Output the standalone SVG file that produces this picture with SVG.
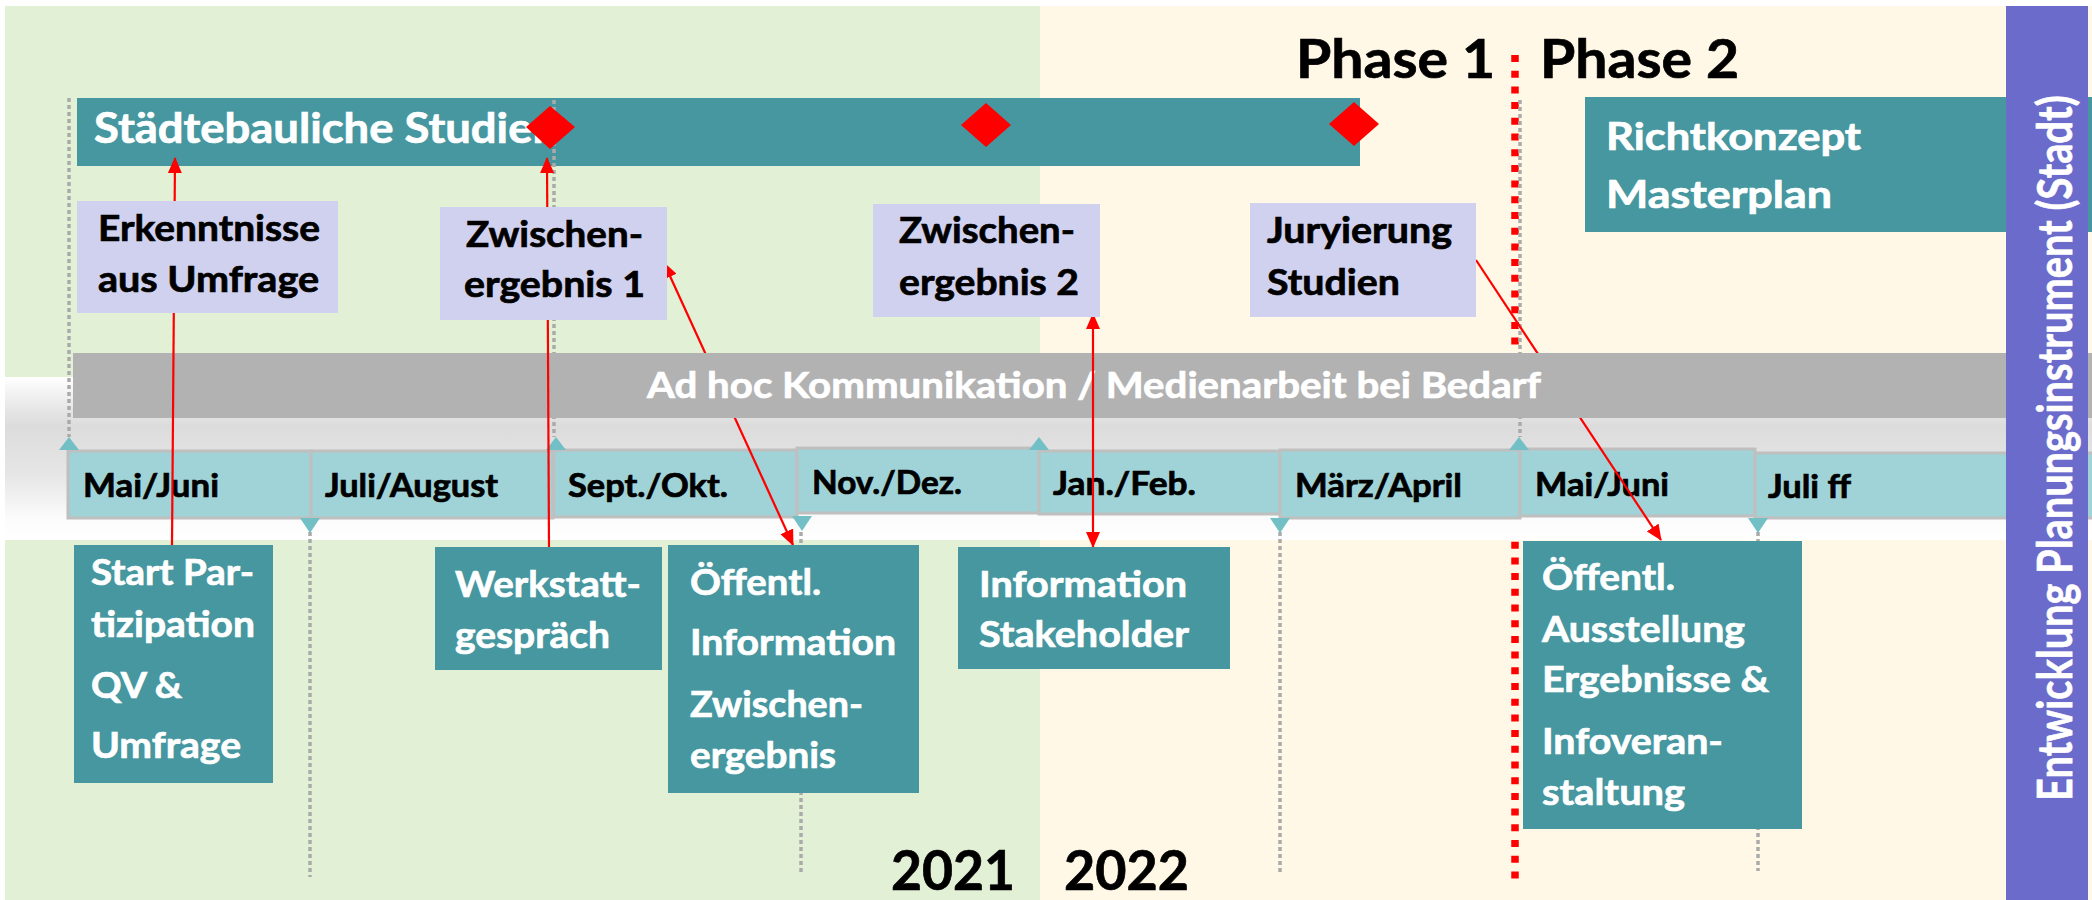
<svg xmlns="http://www.w3.org/2000/svg" width="2092" height="900" viewBox="0 0 2092 900">
<defs>
<linearGradient id="bandGrad" x1="0" y1="0" x2="0" y2="1">
<stop offset="0" stop-color="#ffffff"/>
<stop offset="0.2" stop-color="#e6e6e6"/>
<stop offset="0.3" stop-color="#dcdcdc"/>
<stop offset="0.6" stop-color="#e6e6e6"/>
<stop offset="0.86" stop-color="#fbfbfb"/>
<stop offset="1" stop-color="#ffffff"/>
</linearGradient>
<marker id="arr" viewBox="0 0 16 14" refX="15" refY="7" markerWidth="16" markerHeight="14" markerUnits="userSpaceOnUse" orient="auto-start-reverse">
<path d="M0,0 L16,7 L0,14 Z" fill="#ff0000"/>
</marker>
<style>
text{font-family:Lato,"Open Sans","Liberation Sans",sans-serif;font-weight:bold}
.teal{fill:#46979f}
.lav{fill:#d0d1ef}
.wt{fill:#ffffff;stroke:#ffffff;stroke-width:0.7}
.bk{fill:#000000;stroke:#000000;stroke-width:0.7}
.month{fill:#9fd3d7;stroke:#bfbfbf;stroke-width:3}
.tri{fill:#73bfc6}
.gdot{stroke:#aaaaaa;stroke-width:3.5;stroke-dasharray:4 3;fill:none}
.red{stroke:#ff0000;stroke-width:2.2;fill:none}
.dia{fill:#ff0000}
.f36{font-size:36px}
.f37{font-size:37px}
.f32{font-size:32px}
</style>
</defs>

<g id="background">
<rect x="0" y="0" width="2092" height="900" fill="#ffffff"/>
<rect x="5" y="6" width="1036" height="894" fill="#e2f0d6"/>
<rect x="1040" y="6" width="1052" height="894" fill="#fff8e6"/>
</g>

<g id="phase-divider">
<line x1="1515" y1="55" x2="1515" y2="887" stroke="#ff0000" stroke-width="7.5" stroke-dasharray="7 8.7"/>
</g>

<g id="band">
<rect x="5" y="377" width="2087" height="163" fill="url(#bandGrad)"/>
</g>

<g id="node-staedtebau">
<rect x="77" y="98" width="1283" height="68" class="teal"/>
<text x="94" y="143" class="wt" style="font-size:42px" textLength="464" lengthAdjust="spacingAndGlyphs">Städtebauliche Studien</text>
</g>

<g id="guides">
<line x1="69" y1="98" x2="69" y2="437" class="gdot"/>
<line x1="554" y1="100" x2="554" y2="437" class="gdot"/>
<line x1="1520" y1="100" x2="1520" y2="437" class="gdot"/>
<line x1="310" y1="532" x2="310" y2="877" class="gdot"/>
<line x1="801" y1="532" x2="801" y2="873" class="gdot"/>
<line x1="1280" y1="532" x2="1280" y2="875" class="gdot"/>
<line x1="1758" y1="532" x2="1758" y2="871" class="gdot"/>
</g>

<g id="milestones">
<polygon points="550,106 575,127 550,149 526,127" class="dia"/>
<polygon points="986,103 1011,125 986,147 961,125" class="dia"/>
<polygon points="1354,102 1379,124 1354,146 1329,124" class="dia"/>
</g>

<g id="months">
<rect x="68" y="451" width="243" height="67" class="month"/>
<rect x="311" y="451" width="242" height="67" class="month"/>
<rect x="554" y="450" width="243" height="67" class="month"/>
<rect x="797" y="448" width="242" height="65" class="month"/>
<rect x="1039" y="451" width="241" height="63" class="month"/>
<rect x="1280" y="450" width="240" height="68" class="month"/>
<rect x="1520" y="449" width="235" height="67" class="month"/>
<rect x="1755" y="453" width="345" height="65" class="month"/>
<text x="83" y="497" class="bk f32" textLength="136" lengthAdjust="spacingAndGlyphs">Mai/Juni</text>
<text x="325" y="497" class="bk f32" textLength="173" lengthAdjust="spacingAndGlyphs">Juli/August</text>
<text x="568" y="497" class="bk f32" textLength="160" lengthAdjust="spacingAndGlyphs">Sept./Okt.</text>
<text x="812" y="494" class="bk f32" textLength="150" lengthAdjust="spacingAndGlyphs">Nov./Dez.</text>
<text x="1053" y="495" class="bk f32" textLength="143" lengthAdjust="spacingAndGlyphs">Jan./Feb.</text>
<text x="1295" y="497" class="bk f32" textLength="167" lengthAdjust="spacingAndGlyphs">März/April</text>
<text x="1535" y="496" class="bk f32" textLength="134" lengthAdjust="spacingAndGlyphs">Mai/Juni</text>
<text x="1768" y="498" class="bk f32" textLength="83" lengthAdjust="spacingAndGlyphs">Juli ff</text>
</g>

<g id="markers">
<polygon points="59,450 79,450 69,437" class="tri"/>
<polygon points="546,450 566,450 556,437" class="tri"/>
<polygon points="1029,450 1049,450 1039,437" class="tri"/>
<polygon points="1509,450 1529,450 1519,437" class="tri"/>
<polygon points="300,518 320,518 310,533" class="tri"/>
<polygon points="792,516 812,516 802,531" class="tri"/>
<polygon points="1270,518 1290,518 1280,533" class="tri"/>
<polygon points="1748,518 1768,518 1758,533" class="tri"/>
</g>

<g id="connectors-behind" class="connectors">
<line x1="664" y1="263" x2="793" y2="545" class="red" marker-start="url(#arr)" marker-end="url(#arr)"/>
<line x1="1476" y1="260" x2="1661" y2="540" class="red" marker-end="url(#arr)"/>
</g>

<g id="node-adhoc">
<rect x="73" y="353" width="2019" height="65" fill="#b2b2b2"/>
<text x="647" y="398" class="wt f37" textLength="894" lengthAdjust="spacingAndGlyphs">Ad hoc Kommunikation / Medienarbeit bei Bedarf</text>
</g>

<g id="connectors" class="connectors">
<line x1="172" y1="545" x2="175" y2="158" class="red" marker-end="url(#arr)"/>
<line x1="549" y1="547" x2="547" y2="158" class="red" marker-end="url(#arr)"/>
<line x1="1093" y1="314" x2="1093" y2="547" class="red" marker-start="url(#arr)" marker-end="url(#arr)"/>
</g>

<g id="node-erkenntnisse">
<rect x="77" y="201" width="261" height="112" class="lav"/>
<text x="98" y="241" class="bk f36" textLength="222" lengthAdjust="spacingAndGlyphs">Erkenntnisse</text>
<text x="98" y="292" class="bk f36" textLength="221" lengthAdjust="spacingAndGlyphs">aus Umfrage</text>
</g>

<g id="node-zwischen1">
<rect x="440" y="207" width="227" height="113" class="lav"/>
<text x="466" y="247" class="bk f36" textLength="177" lengthAdjust="spacingAndGlyphs">Zwischen-</text>
<text x="464" y="297" class="bk f36" textLength="181" lengthAdjust="spacingAndGlyphs">ergebnis 1</text>
</g>

<g id="node-zwischen2">
<rect x="873" y="204" width="227" height="113" class="lav"/>
<text x="899" y="243" class="bk f36" textLength="176" lengthAdjust="spacingAndGlyphs">Zwischen-</text>
<text x="899" y="295" class="bk f36" textLength="180" lengthAdjust="spacingAndGlyphs">ergebnis 2</text>
</g>

<g id="node-juryierung">
<rect x="1250" y="203" width="226" height="114" class="lav"/>
<text x="1267" y="243" class="bk f36" textLength="185" lengthAdjust="spacingAndGlyphs">Juryierung</text>
<text x="1267" y="295" class="bk f36" textLength="133" lengthAdjust="spacingAndGlyphs">Studien</text>
</g>

<g id="node-richtkonzept">
<rect x="1585" y="97" width="507" height="135" class="teal"/>
<text x="1606" y="150" class="wt" style="font-size:38px" textLength="255" lengthAdjust="spacingAndGlyphs">Richtkonzept</text>
<text x="1606" y="208" class="wt" style="font-size:38px" textLength="226" lengthAdjust="spacingAndGlyphs">Masterplan</text>
</g>

<g id="node-start">
<rect x="74" y="545" width="199" height="238" class="teal"/>
<text x="91" y="585" class="wt f37" textLength="163" lengthAdjust="spacingAndGlyphs">Start Par-</text>
<text x="91" y="637" class="wt f37" textLength="164" lengthAdjust="spacingAndGlyphs">tizipation</text>
<text x="91" y="698" class="wt f37" textLength="91" lengthAdjust="spacingAndGlyphs">QV &amp;</text>
<text x="91" y="758" class="wt f37" textLength="150" lengthAdjust="spacingAndGlyphs">Umfrage</text>
</g>

<g id="node-werkstatt">
<rect x="435" y="547" width="227" height="123" class="teal"/>
<text x="455" y="597" class="wt f37" textLength="186" lengthAdjust="spacingAndGlyphs">Werkstatt-</text>
<text x="455" y="648" class="wt f37" textLength="155" lengthAdjust="spacingAndGlyphs">gespräch</text>
</g>

<g id="node-oeffentl-info">
<rect x="668" y="545" width="251" height="248" class="teal"/>
<text x="690" y="595" class="wt f37" textLength="131" lengthAdjust="spacingAndGlyphs">Öffentl.</text>
<text x="690" y="655" class="wt f37" textLength="206" lengthAdjust="spacingAndGlyphs">Information</text>
<text x="690" y="717" class="wt f37" textLength="173" lengthAdjust="spacingAndGlyphs">Zwischen-</text>
<text x="690" y="768" class="wt f37" textLength="146" lengthAdjust="spacingAndGlyphs">ergebnis</text>
</g>

<g id="node-stakeholder">
<rect x="958" y="547" width="272" height="122" class="teal"/>
<text x="979" y="597" class="wt f37" textLength="208" lengthAdjust="spacingAndGlyphs">Information</text>
<text x="979" y="647" class="wt f37" textLength="210" lengthAdjust="spacingAndGlyphs">Stakeholder</text>
</g>

<g id="node-ausstellung">
<rect x="1523" y="541" width="279" height="288" class="teal"/>
<text x="1542" y="590" class="wt f37" textLength="133" lengthAdjust="spacingAndGlyphs">Öffentl.</text>
<text x="1542" y="642" class="wt f37" textLength="203" lengthAdjust="spacingAndGlyphs">Ausstellung</text>
<text x="1542" y="692" class="wt f37" textLength="227" lengthAdjust="spacingAndGlyphs">Ergebnisse &amp;</text>
<text x="1542" y="754" class="wt f37" textLength="181" lengthAdjust="spacingAndGlyphs">Infoveran-</text>
<text x="1542" y="805" class="wt f37" textLength="143" lengthAdjust="spacingAndGlyphs">staltung</text>
</g>

<g id="labels">
<text x="1296" y="78" class="bk" style="font-size:54px" textLength="199" lengthAdjust="spacingAndGlyphs">Phase 1</text>
<text x="1540" y="78" class="bk" style="font-size:54px" textLength="199" lengthAdjust="spacingAndGlyphs">Phase 2</text>
<text x="891" y="890" class="bk" style="font-size:55px" textLength="124" lengthAdjust="spacingAndGlyphs">2021</text>
<text x="1064" y="890" class="bk" style="font-size:55px" textLength="125" lengthAdjust="spacingAndGlyphs">2022</text>
</g>

<g id="node-planungsinstrument">
<rect x="2006" y="6" width="82" height="894" fill="#6b6bcc"/>
<text transform="translate(2072,801) rotate(-90) scale(0.7,1)" x="0" y="0" class="wt" style="font-size:48px" textLength="1008" lengthAdjust="spacingAndGlyphs">Entwicklung Planungsinstrument (Stadt)</text>
</g>
</svg>
